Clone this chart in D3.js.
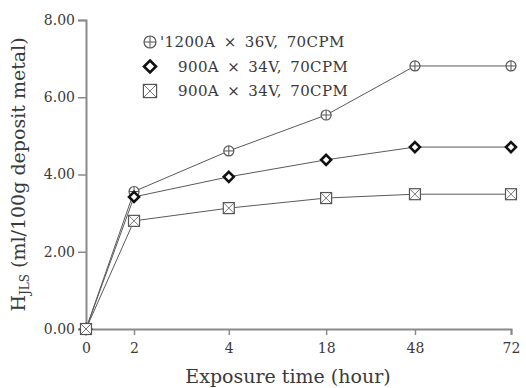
<!DOCTYPE html>
<html>
<head>
<meta charset="utf-8">
<script src="https://cdn.jsdelivr.net/npm/d3@7"></script>
<style>
  body { margin: 0; background: #fff; }
  text { font-family: "DejaVu Serif", "Liberation Serif", serif; fill: #3a3a3a; }
</style>
</head>
<body>
<div id="chart"></div>
<script>
// categories on the x axis and where they sit along it (fraction of axis length)
const hours = ["0", "2", "4", "18", "48", "72"]
const hourPos = [0, 0.113, 0.336, 0.565, 0.774, 1]
const yTicks = [0, 2, 4, 6, 8]

const seriesNames = ["'1200A × 36V, 70CPM", "900A × 34V, 70CPM", "900A × 34V, 70CPM"]
const s1200 = [0, 3.56, 4.61, 5.54, 6.81, 6.81]
const s900a = [0, 3.42, 3.94, 4.38, 4.71, 4.71]
const s900b = [0, 2.80, 3.13, 3.39, 3.49, 3.49]

const width = 526, height = 388
const margin = { top: 20, right: 15, bottom: 59, left: 86 }

const svg = d3.select("#chart").append("svg")
  .attr("width", width).attr("height", height)

const x = d3.scaleLinear().domain([0, 1]).range([margin.left, width - margin.right])
const y = d3.scaleLinear().domain([0, 8]).range([height - margin.bottom, margin.top])

// axes
const xAxis = d3.axisBottom(x)
  .tickValues(hourPos)
  .tickFormat((d, i) => hours[i])
  .tickSize(6)
const yAxis = d3.axisLeft(y)
  .tickValues(yTicks)
  .tickFormat(d3.format(".2f"))
  .tickSize(8)
  .tickPadding(3)

const gx = svg.append("g")
  .attr("transform", `translate(0,${y(0)})`)
  .call(xAxis)
const gy = svg.append("g")
  .attr("transform", `translate(${x(0)},0)`)
  .call(yAxis)

for (const g of [gx, gy]) {
  g.select(".domain").attr("stroke", "#8a8a8a").attr("stroke-width", 2)
  g.selectAll(".tick line").attr("stroke", "#8a8a8a").attr("stroke-width", 1.5)
  g.selectAll(".tick text").attr("font-family", "DejaVu Serif").attr("font-size", 14).attr("fill", "#3a3a3a")
}
gx.selectAll(".tick text").attr("dy", "1.1em")

// axis titles
svg.append("text")
  .attr("x", 288).attr("y", 383)
  .attr("text-anchor", "middle")
  .attr("font-size", 19)
  .text("Exposure time (hour)")

const yt = svg.append("text")
  .attr("transform", `translate(25,${(y(0) + y(8)) / 2}) rotate(-90)`)
  .attr("text-anchor", "middle")
  .attr("font-size", 19)
yt.append("tspan").text("H")
yt.append("tspan").attr("font-size", 12).attr("dy", 4).text("JLS")
yt.append("tspan").attr("dy", -4).text(" (ml/100g deposit metal)")

const line = d3.line()
  .x((d, i) => x(hourPos[i]))
  .y(d => y(d))

const allSeries = [s1200, s900a, s900b]

// markers
function drawMarker(g, kind, s = 1) {
  if (kind === 0) {
    g.append("circle").attr("r", 5 * s).attr("fill", "#fff").attr("stroke", "#555").attr("stroke-width", 1.2)
    g.append("path").attr("d", `M${-5 * s},0H${5 * s}M0,${-5 * s}V${5 * s}`).attr("stroke", "#555").attr("stroke-width", 1)
  } else if (kind === 1) {
    g.append("path").attr("d", `M0,${-5 * s}L${5 * s},0L0,${5 * s}L${-5 * s},0Z`)
      .attr("fill", "#fff").attr("stroke", "#111").attr("stroke-width", 2.6)
  } else {
    g.append("rect").attr("x", -5.5 * s).attr("y", -5.5 * s).attr("width", 11 * s).attr("height", 11 * s)
      .attr("fill", "#fff").attr("stroke", "#555").attr("stroke-width", 1.2)
    g.append("path").attr("d", `M${-5 * s},${-5 * s}L${5 * s},${5 * s}M${5 * s},${-5 * s}L${-5 * s},${5 * s}`)
      .attr("stroke", "#666").attr("stroke-width", 0.9)
  }
}

allSeries.forEach((vals, k) => {
  svg.append("path")
    .datum(vals)
    .attr("d", line)
    .attr("fill", "none")
    .attr("stroke", "#5a5a5a")
    .attr("stroke-width", 1)
})

allSeries.forEach((vals, k) => {
  svg.selectAll(null)
    .data(vals)
    .join("g")
    .attr("transform", (d, i) => `translate(${x(hourPos[i])},${y(d)})`)
    .each(function () { drawMarker(d3.select(this), k) })
})

// legend
const legend = svg.append("g").attr("transform", "translate(150,42)")
seriesNames.forEach((name, k) => {
  const row = legend.append("g").attr("transform", `translate(0,${k * 24.5})`)
  drawMarker(row.append("g"), k, 1.2)
  row.append("text")
    .attr("x", k === 0 ? 10 : 28)
    .attr("y", 5)
    .attr("font-size", 15)
    .attr("letter-spacing", 0.4)
    .attr("word-spacing", 3)
    .text(name)
})
</script>
</body>
</html>
